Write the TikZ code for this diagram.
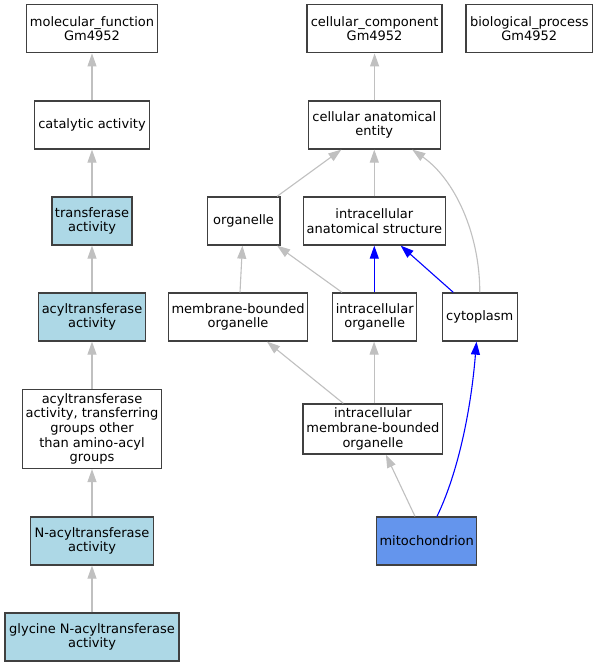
\documentclass[tikz,border=0pt]{standalone}
\usepackage{fontspec}
\setmainfont{DejaVu Sans}
\usetikzlibrary{arrows.meta}
\definecolor{lightb}{HTML}{ADD8E6}
\definecolor{cornb}{HTML}{6495ED}
\definecolor{edgegray}{HTML}{C0C0C0}
\definecolor{boxline}{HTML}{404040}
\tikzset{
  gobox/.style={draw=boxline, line width=1.3pt, fill=white, inner sep=0pt, align=center,
    font=\fontsize{13}{14.7}\selectfont, text=black, minimum height=48pt},
  lbbox/.style={gobox, fill=lightb},
  mbbox/.style={gobox, fill=cornb},
  gedge/.style={draw=edgegray, line width=1.1pt, -{Triangle[length=13pt,width=9pt]}},
  bedge/.style={draw=blue, line width=1.1pt, -{Triangle[length=13pt,width=9pt]}},
}
\begin{document}
\begin{tikzpicture}[x=1pt,y=-1pt]
\useasboundingbox[fill=white] (0,0) rectangle (597,667);
% left column
\node[gobox, minimum width=131pt] (mf) at (92,28.8) {molecular\_function\\Gm4952};
\node[gobox, minimum width=115pt] (cat) at (92,125) {catalytic activity};
\node[lbbox, minimum width=80pt] (tra) at (92,221) {transferase\\activity};
\node[lbbox, minimum width=107pt] (acy) at (92,317) {acyltransferase\\activity};
\node[gobox, minimum width=139pt, minimum height=79pt] (acyo) at (92,429) {acyltransferase\\activity, transferring\\groups other\\than amino-acyl\\groups};
\node[lbbox, minimum width=123pt] (nacy) at (92,541) {N-acyltransferase\\activity};
\node[lbbox, minimum width=174pt] (gly) at (92,637) {glycine N-acyltransferase\\activity};
% right part
\node[gobox, minimum width=135pt] (cc) at (374.6,28.8) {cellular\_component\\Gm4952};
\node[gobox, minimum width=126.5pt] (bp) at (529.3,28.8) {biological\_process\\Gm4952};
\node[gobox, minimum width=132pt] (cae) at (374.3,125) {cellular anatomical\\entity};
\node[gobox, minimum width=72.5pt] (org) at (243.6,221) {organelle};
\node[gobox, minimum width=142pt] (ias) at (374.3,221) {intracellular\\anatomical structure};
\node[gobox, minimum width=139.4pt] (mbo) at (238,317) {membrane-bounded\\organelle};
\node[gobox, minimum width=84pt] (io) at (374.7,317) {intracellular\\organelle};
\node[gobox, minimum width=75pt] (cyto) at (479.8,317) {cytoplasm};
\node[gobox, minimum width=139.7pt, minimum height=50pt] (imbo) at (372.9,429) {intracellular\\membrane-bounded\\organelle};
\node[mbbox, minimum width=100pt] (mito) at (426.7,541) {mitochondrion};
% left edges
\draw[gedge] (cat) -- (mf);
\draw[gedge] (tra) -- (cat);
\draw[gedge] (acy) -- (tra);
\draw[gedge] (acyo) -- (acy);
\draw[gedge] (nacy) -- (acyo);
\draw[gedge] (gly) -- (nacy);
% right edges
\draw[gedge] (cae.north -| cc) -- (cc.south);
\draw[gedge] ([xshift=33.5pt]org.north) -- ([xshift=-33pt]cae.south);
\draw[gedge] (ias) -- (cae);
\draw[gedge] (cyto.north) .. controls +(0,-58) and +(43,30) .. ([xshift=38pt]cae.south);
\draw[gedge] ([xshift=2pt]mbo.north) -- ([xshift=-1.2pt]org.south);
\draw[gedge] ([xshift=-32.7pt]io.north) -- ([xshift=33.5pt]org.south);
\draw[bedge] ([xshift=-0.4pt]io.north) -- (ias.south);
\draw[bedge] ([xshift=-26.5pt]cyto.north) -- ([xshift=26.4pt]ias.south);
\draw[gedge] ([xshift=-29.6pt]imbo.north) -- ([xshift=29pt]mbo.south);
\draw[gedge] ([xshift=1.2pt]imbo.north) -- ([xshift=-0.6pt]io.south);
\draw[gedge] ([xshift=-11.7pt]mito.north) -- ([xshift=13pt]imbo.south);
\draw[bedge] ([xshift=10.3pt]mito.north) .. controls +(18,-37) and +(-6.5,79) .. ([xshift=-3.3pt]cyto.south);
\end{tikzpicture}
\end{document}
